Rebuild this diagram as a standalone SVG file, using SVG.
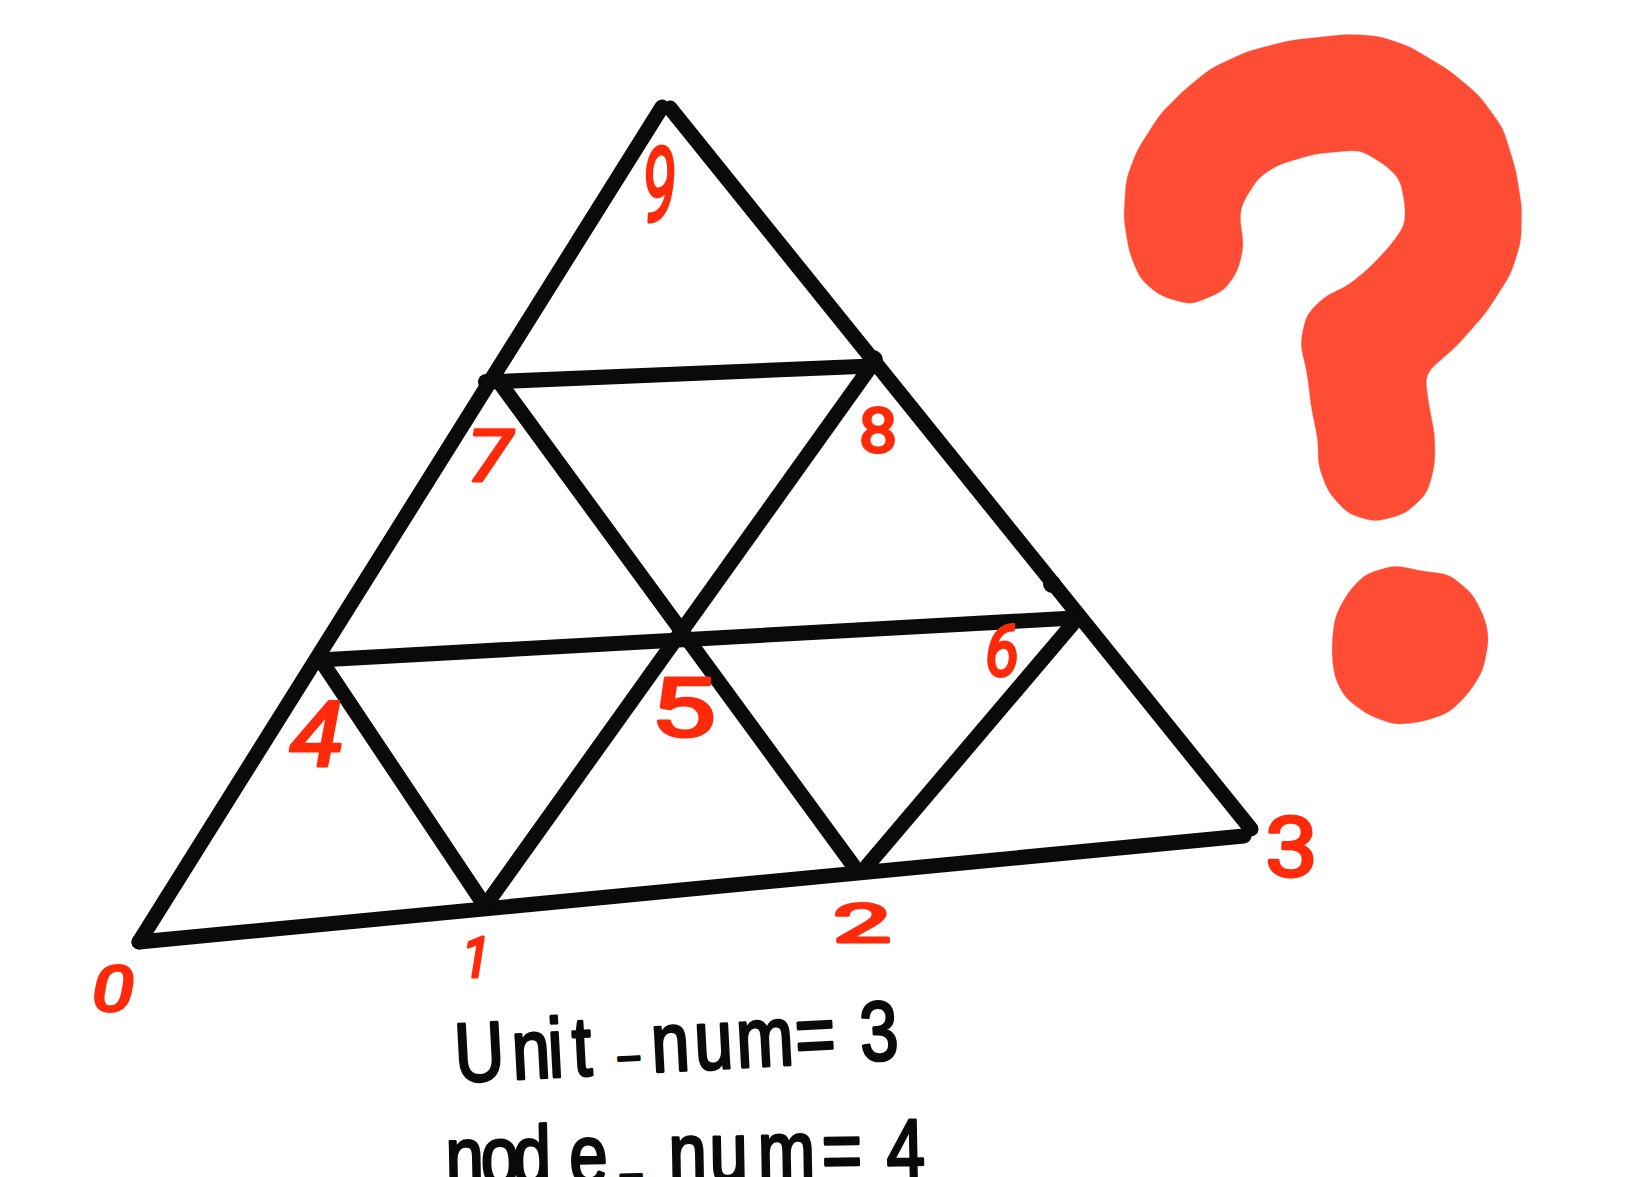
<svg xmlns="http://www.w3.org/2000/svg" width="1626" height="1177" viewBox="0 0 1626 1177">
<defs>
<filter id="smooth" x="-5%" y="-5%" width="110%" height="110%" color-interpolation-filters="sRGB">
<feGaussianBlur stdDeviation="7"/>
<feColorMatrix type="matrix" values="0 0 0 0 1  0 0 0 0 0.302  0 0 0 0 0.208  0 0 0 14 -6.5"/>
</filter>
</defs>
<style>
.edge{stroke:#0a0a0a;stroke-width:15;stroke-linecap:round;fill:none}
.dot{fill:#0a0a0a}
.num{font-family:Roboto,"Liberation Sans",Arial,sans-serif;fill:#ff2a0a;stroke:#ff2a0a;stroke-width:3;stroke-linejoin:round}
.slant{font-style:italic}
.note{font-family:"Liberation Sans",Arial,sans-serif;font-size:84px;fill:#0a0a0a;stroke:#0a0a0a;stroke-width:3;stroke-linejoin:round}
.mark{fill:#ff4d35}
</style>
<rect width="1626" height="1177" fill="#ffffff"/>
<g id="connectors">
<line class="edge" x1="139" y1="942" x2="1244" y2="836"/>
<line class="edge" x1="139" y1="942" x2="662" y2="107"/>
<line class="edge" x1="670" y1="108" x2="1251" y2="829"/>
<line class="edge" x1="487" y1="382" x2="872" y2="366"/>
<line class="edge" x1="319" y1="660" x2="1074" y2="618"/>
<line class="edge" x1="497" y1="379" x2="858" y2="872"/>
<line class="edge" x1="874" y1="362" x2="485" y2="906"/>
<line class="edge" x1="322" y1="662" x2="485" y2="906"/>
<line class="edge" x1="1076" y1="620" x2="867" y2="866"/>
<circle class="dot" cx="1052" cy="584" r="9"/>
<circle class="dot" cx="873" cy="360" r="10"/>
<circle class="dot" cx="486" cy="382" r="8"/>
</g>
<g id="node-0"><text class="num slant" x="92" y="1011" font-size="62" textLength="42" lengthAdjust="spacingAndGlyphs">0</text></g>
<g id="node-1"><text class="num slant" x="462" y="977" font-size="56" textLength="28" lengthAdjust="spacingAndGlyphs">1</text></g>
<g id="node-2"><text class="num" x="833" y="942" font-size="54" textLength="58" lengthAdjust="spacingAndGlyphs">2</text></g>
<g id="node-3"><text class="num" x="1265" y="876" font-size="84" textLength="53" lengthAdjust="spacingAndGlyphs">3</text></g>
<g id="node-4"><text class="num slant" x="290" y="766" font-size="90" textLength="53" lengthAdjust="spacingAndGlyphs">4</text></g>
<g id="node-5"><text class="num" x="650" y="736" font-size="82" textLength="66" lengthAdjust="spacingAndGlyphs">5</text></g>
<g id="node-6"><text class="num slant" x="985" y="676" font-size="72" textLength="34" lengthAdjust="spacingAndGlyphs">6</text></g>
<g id="node-7"><text class="num slant" x="467" y="481" font-size="72" textLength="45" lengthAdjust="spacingAndGlyphs">7</text></g>
<g id="node-8"><text class="num" x="859" y="452" font-size="62" textLength="38" lengthAdjust="spacingAndGlyphs">8</text></g>
<g id="node-9"><text class="num slant" x="642" y="222" font-size="105" textLength="34" lengthAdjust="spacingAndGlyphs">9</text></g>
<g id="question-mark" filter="url(#smooth)">
<path class="mark" d="M1123.5 218L1126 179L1137 150L1160 114L1184 90L1211 68L1248 51L1291 40L1348 34L1379 36L1409 46L1449 70L1479 95L1503 128L1516 170L1522 208L1521 242L1511 274L1486 313L1456 347L1436 364L1425 375L1429 405L1435 436L1435 465L1427 494L1405 514L1375 522L1348 514L1328 492L1318 465L1318 441L1311 407L1307 373L1300 344L1306 315L1325 296L1347 286L1368 269L1389 247L1405 225L1405 206L1400 179L1385 165L1360 150L1315 154L1278 165L1258 178L1241 206L1240 220L1244 245L1238 271L1224 291L1191 305L1160 296L1140 279L1129 252Z"/>
<path class="mark" d="M1332 640L1335 616L1348 592L1365 574L1395 565L1422 571L1449 574L1473 594L1486 621L1489 640L1483 671L1469 693L1449 713L1422 722L1395 725L1368 715L1345 698L1335 679L1332 660Z"/>
</g>
<g id="notes">
<text class="note" x="-5 65 109 139 195 235 288 339 411 490" y="0 0 0 0 -22 0 0 0 0 0" transform="translate(460 1082) rotate(-3) scale(.82 1)">Unit<tspan font-size="44">_</tspan>num=3</text>
<text class="note" x="-5 38 77 146 209 267 317 376 454 533" y="0 0 0 0 -14 0 0 0 0 0" transform="translate(450 1186) rotate(-1) scale(.82 1)">node<tspan font-size="44">_</tspan>num=4</text>
</g>
</svg>
